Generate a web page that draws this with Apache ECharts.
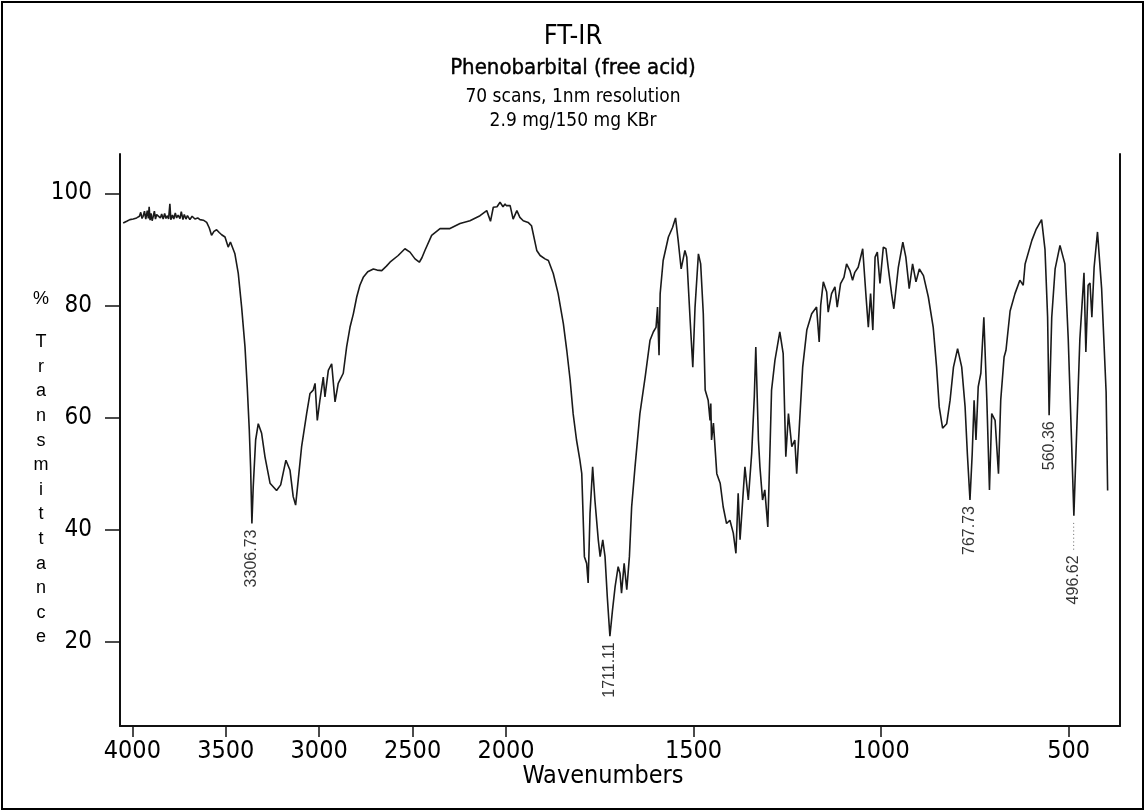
<!DOCTYPE html>
<html>
<head>
<meta charset="utf-8">
<title>FT-IR Phenobarbital</title>
<script src="https://cdn.jsdelivr.net/npm/echarts@6/dist/echarts.min.js"></script>
<style>
  html, body { margin: 0; padding: 0; background: #fff; }
  #chart { width: 1146px; height: 812px; }
</style>
</head>
<body>
<div id="chart"></div>
<script>
// wavenumbers above 2000 cm-1 (compressed half of the axis)
const waveHigh = [4049, 4030, 4013, 3995, 3977, 3962, 3955, 3948, 3942, 3935, 3928, 3920, 3914, 3910, 3905,
  3900, 3894, 3888, 3882, 3876, 3870, 3861, 3850, 3843, 3835, 3827, 3820, 3812, 3806, 3799, 3794, 3785,
  3778, 3770, 3763, 3755, 3745, 3738, 3729, 3722, 3713, 3705, 3692, 3680, 3665, 3650, 3638, 3620, 3602,
  3588, 3576, 3563, 3549, 3535, 3522, 3504, 3487, 3475, 3468, 3451, 3433, 3415, 3397, 3385, 3374, 3367,
  3360, 3353, 3340, 3326, 3308, 3290, 3263, 3228, 3206, 3178, 3156, 3139, 3126, 3112, 3094, 3067, 3049,
  3032, 3022, 3010, 2996, 2978, 2969, 2951, 2933, 2915, 2898, 2871, 2853, 2835, 2817, 2799, 2782, 2764,
  2740, 2710, 2690, 2665, 2640, 2621, 2577, 2541, 2514, 2487, 2464, 2450, 2434, 2398, 2353, 2300, 2246,
  2193, 2139, 2103, 2083, 2068, 2048, 2032, 2016, 2005, 2000];
const transHigh = [94.7, 95.0, 95.3, 95.4, 95.6, 95.9, 96.6, 95.5, 95.9, 96.8, 95.4, 96.9, 95.5, 97.6, 95.2,
  96.4, 95.1, 95.9, 96.8, 95.4, 96.2, 96.0, 95.6, 96.3, 95.4, 96.4, 95.5, 96.0, 95.4, 98.1, 95.3, 96.1,
  95.4, 96.5, 95.6, 96.1, 95.5, 96.7, 95.3, 96.2, 95.4, 96.0, 95.3, 95.9, 95.4, 95.6, 95.3, 95.2, 94.8,
  93.8, 92.5, 93.2, 93.5, 93.0, 92.6, 92.2, 90.4, 91.3, 91.1, 89.2, 85.7, 79.7, 72.6, 65.5, 57.8, 51.2,
  41.1, 47.6, 56.0, 58.9, 57.2, 53.0, 48.3, 47.0, 48.0, 52.4, 50.6, 45.9, 44.4, 48.9, 54.8, 60.7, 64.3,
  64.9, 66.1, 59.5, 63.1, 67.2, 63.7, 68.4, 69.6, 62.8, 66.1, 67.9, 72.6, 76.1, 78.5, 81.5, 83.6, 85.0,
  86.0, 86.5, 86.3, 86.2, 87.0, 87.7, 88.9, 90.1, 89.5, 88.3, 87.7, 88.5, 89.8, 92.5, 93.7, 93.7, 94.6,
  95.1, 96.0, 96.9, 95.0, 97.5, 97.6, 98.4, 97.6, 98.1, 97.8];

// wavenumbers from 2000 cm-1 down (expanded half of the axis)
const waveLow = [2000, 1998, 1989, 1981, 1971, 1963, 1954, 1941, 1932, 1918, 1909, 1896, 1887, 1874, 1861,
  1847, 1838, 1829, 1821, 1812, 1803, 1798, 1791, 1785, 1781, 1776, 1769, 1763, 1754, 1749, 1742, 1736,
  1730, 1723, 1716, 1709, 1701, 1696, 1692, 1685, 1678, 1671, 1665, 1656, 1643, 1629, 1616, 1607, 1600,
  1596, 1592, 1589, 1581, 1567, 1556, 1548, 1541, 1533, 1523, 1518, 1509, 1502, 1496, 1487, 1481, 1474,
  1469, 1461, 1456, 1454, 1452, 1447, 1438, 1429, 1421, 1412, 1403, 1394, 1387, 1381, 1376, 1372, 1363,
  1354, 1345, 1338, 1334, 1327, 1323, 1316, 1310, 1302, 1296, 1292, 1283, 1270, 1261, 1254, 1247, 1238,
  1230, 1225, 1216, 1209, 1198, 1185, 1172, 1165, 1161, 1154, 1145, 1141, 1132, 1123, 1117, 1108, 1099,
  1092, 1083, 1076, 1070, 1061, 1049, 1040, 1034, 1028, 1022, 1016, 1010, 1003, 994, 987, 981, 972, 966,
  954, 942, 934, 925, 916, 907, 898, 887, 874, 861, 852, 845, 836, 825, 816, 807, 796, 785, 776, 770,
  763, 757, 752, 747, 741, 734, 726, 718, 711, 705, 696, 687, 681, 672, 667, 656, 643, 630, 621, 616,
  598, 587, 572, 563, 556, 552, 545, 536, 523, 510, 501, 492, 486, 478, 470, 462, 459, 454, 448, 443,
  438, 432, 423, 412, 400, 396];
const transLow = [97.8, 97.5, 97.8, 95.4, 96.9, 95.7, 95.1, 94.8, 94.2, 89.8, 88.9, 88.3, 88.0, 85.7, 82.1,
  76.7, 72.0, 66.7, 60.7, 56.0, 52.4, 50.0, 35.2, 34.0, 30.5, 42.9, 51.2, 45.3, 38.2, 35.2, 38.2, 35.2,
  28.1, 21.0, 25.7, 29.9, 33.4, 32.2, 28.7, 34.0, 29.3, 35.2, 44.1, 51.2, 60.7, 67.2, 73.8, 75.3, 76.1,
  79.7, 71.1, 82.1, 88.0, 92.2, 93.9, 95.6, 91.6, 86.5, 89.8, 88.6, 77.3, 69.0, 79.7, 89.2, 87.4, 78.5,
  64.9, 63.1, 59.5, 62.5, 56.0, 59.0, 50.0, 48.3, 44.1, 41.1, 41.7, 39.4, 35.8, 46.5, 38.2, 38.2, 51.2,
  45.3, 53.6, 63.7, 72.6, 56.0, 51.2, 45.3, 47.1, 40.5, 54.8, 64.9, 70.2, 75.3, 71.4, 53.0, 60.7, 54.8,
  56.0, 50.0, 60.7, 69.0, 75.6, 78.5, 79.7, 73.5, 80.0, 84.2, 82.4, 78.8, 82.1, 83.3, 79.7, 83.9, 85.0,
  87.4, 86.2, 84.5, 85.9, 86.8, 90.1, 81.5, 76.1, 82.1, 75.6, 88.6, 89.5, 83.9, 90.4, 90.1, 86.8, 82.1, 79.4,
  86.8, 91.3, 88.6, 83.0, 87.4, 84.2, 86.5, 85.3, 81.5, 76.1, 69.0, 61.9, 58.1, 58.9, 63.1, 69.0, 72.3, 69.0, 61.9, 53.6,
  45.3, 53.6, 63.1, 56.0, 65.5, 67.9, 77.9, 63.1, 47.1, 60.7, 59.5, 50.0, 63.1, 70.8, 72.0, 79.0, 82.1, 84.5, 83.6, 87.4,
  91.6, 93.5, 95.3, 90.0, 77.9, 60.4, 77.9, 86.5, 90.7, 87.4, 74.0, 55.5, 42.5, 58.5, 74.0, 82.5, 85.8, 71.7, 83.6, 84.0,
  77.9, 86.8, 93.1, 83.0, 64.5, 47.0];

// picked peaks
const peakNames = ['3306.73', '1711.11', '767.73', '560.36', '496.62'];
const peakWaves = [3306.73, 1711.11, 767.73, 560.36, 496.62];

const yTicks = [20, 40, 60, 80, 100];
const xTicksHigh = [2500, 3000, 3500, 4000];
const xTicksLow = [500, 1000, 1500, 2000];

const NARROW = '"Liberation Sans Narrow", "DejaVu Sans Condensed", "Arial Narrow", sans-serif';
const SANS = '"Liberation Sans", Arial, sans-serif';

function pairs(w, t) {
  return w.map(function (v, i) { return [v, t[i]]; });
}
const highData = pairs(waveHigh, transHigh);
const lowData = pairs(waveLow, transLow);

// lowest point of the trace near each picked wavenumber
function dipNear(target) {
  const all = highData.concat(lowData);
  let best = null;
  all.forEach(function (p) {
    if (Math.abs(p[0] - target) <= 60 && (!best || p[1] < best[1])) best = p;
  });
  return best;
}
const peaksHigh = [];
const peaksLow = [];
peakWaves.forEach(function (w, i) {
  const d = dipNear(w);
  const item = { value: d, name: peakNames[i] };
  if (d[0] > 2000) peaksHigh.push(item); else peaksLow.push(item);
});

const chart = echarts.init(document.getElementById('chart'));

const axisLine = { show: true, onZero: false, lineStyle: { color: '#111', width: 2 } };
const xLabel = {
  color: '#000', fontSize: 25, fontFamily: NARROW, margin: 13,
  formatter: function (v) { return String(v); }
};
const peakLabel = {
  show: true,
  position: 'bottom',
  distance: 6,
  rotate: 90,
  align: 'right',
  verticalAlign: 'middle',
  color: '#000',
  fontSize: 16,
  fontFamily: SANS,
  formatter: function (p) {
    return p.name === '496.62' ? p.name + ' {d|········}' : p.name;
  },
  rich: { d: { color: '#666', fontSize: 11 } }
};

chart.setOption({
  animation: false,
  backgroundColor: '#fff',
  grid: [
    { left: 120, top: 154, width: 386, height: 572 },
    { left: 506, top: 154, width: 614, height: 572 }
  ],
  xAxis: [
    {
      type: 'value', gridIndex: 0, min: 2000, max: 4066, inverse: true,
      axisLine: axisLine,
      axisTick: { show: true, customValues: xTicksHigh, length: 11, lineStyle: { color: '#111', width: 1.5 } },
      axisLabel: Object.assign({ customValues: xTicksHigh }, xLabel),
      splitLine: { show: false }
    },
    {
      type: 'value', gridIndex: 1, min: 363, max: 2000, inverse: true,
      axisLine: axisLine,
      axisTick: { show: true, customValues: xTicksLow, length: 11, lineStyle: { color: '#111', width: 1.5 } },
      axisLabel: Object.assign({ customValues: xTicksLow }, xLabel),
      splitLine: { show: false }
    }
  ],
  yAxis: [
    {
      type: 'value', gridIndex: 0, min: 5, max: 107, position: 'left',
      axisLine: axisLine,
      axisTick: { show: true, customValues: yTicks, length: 15, lineStyle: { color: '#111', width: 1.5 } },
      axisLabel: { customValues: yTicks, color: '#000', fontSize: 24, fontFamily: NARROW, margin: 28 },
      splitLine: { show: false }
    },
    {
      type: 'value', gridIndex: 1, min: 5, max: 107, position: 'right',
      axisLine: axisLine,
      axisTick: { show: false },
      axisLabel: { show: false },
      splitLine: { show: false }
    }
  ],
  graphic: [
    { type: 'rect', shape: { x: 2, y: 2, width: 1141, height: 807 }, style: { fill: null, stroke: '#000', lineWidth: 2 } },
    { type: 'text', x: 573, y: 37, style: { text: 'FT-IR', align: 'center', verticalAlign: 'middle', font: '27px ' + NARROW, fill: '#000' } },
    { type: 'text', x: 573, y: 68, style: { text: 'Phenobarbital (free acid)', align: 'center', verticalAlign: 'middle', font: '22px ' + NARROW, fill: '#000', stroke: '#000', lineWidth: 0.4 } },
    { type: 'text', x: 573, y: 97, style: { text: '70 scans, 1nm resolution', align: 'center', verticalAlign: 'middle', font: '19px ' + NARROW, fill: '#000' } },
    { type: 'text', x: 573, y: 121, style: { text: '2.9 mg/150 mg KBr', align: 'center', verticalAlign: 'middle', font: '19px ' + NARROW, fill: '#000' } },
    { type: 'text', x: 603, y: 776, style: { text: 'Wavenumbers', align: 'center', verticalAlign: 'middle', font: '25px ' + NARROW, fill: '#000' } },
    { type: 'text', x: 41, y: 299, style: { text: '%', align: 'center', verticalAlign: 'middle', font: '18px ' + SANS, fill: '#000' } },
    { type: 'text', x: 41, y: 330, style: { text: 'T\nr\na\nn\ns\nm\ni\nt\nt\na\nn\nc\ne', align: 'center', verticalAlign: 'top', lineHeight: 24.6, font: '18px ' + SANS, fill: '#000' } }
  ],
  series: [
    {
      type: 'line', xAxisIndex: 0, yAxisIndex: 0, data: highData,
      showSymbol: false, symbol: 'none', lineStyle: { color: '#1a1a1a', width: 1.6 }
    },
    {
      type: 'line', xAxisIndex: 1, yAxisIndex: 1, data: lowData,
      showSymbol: false, symbol: 'none', lineStyle: { color: '#1a1a1a', width: 1.6 }
    },
    {
      type: 'scatter', xAxisIndex: 0, yAxisIndex: 0, data: peaksHigh,
      symbolSize: 0, label: peakLabel, silent: true
    },
    {
      type: 'scatter', xAxisIndex: 1, yAxisIndex: 1, data: peaksLow,
      symbolSize: 0, label: peakLabel, silent: true
    }
  ]
});
</script>
</body>
</html>
